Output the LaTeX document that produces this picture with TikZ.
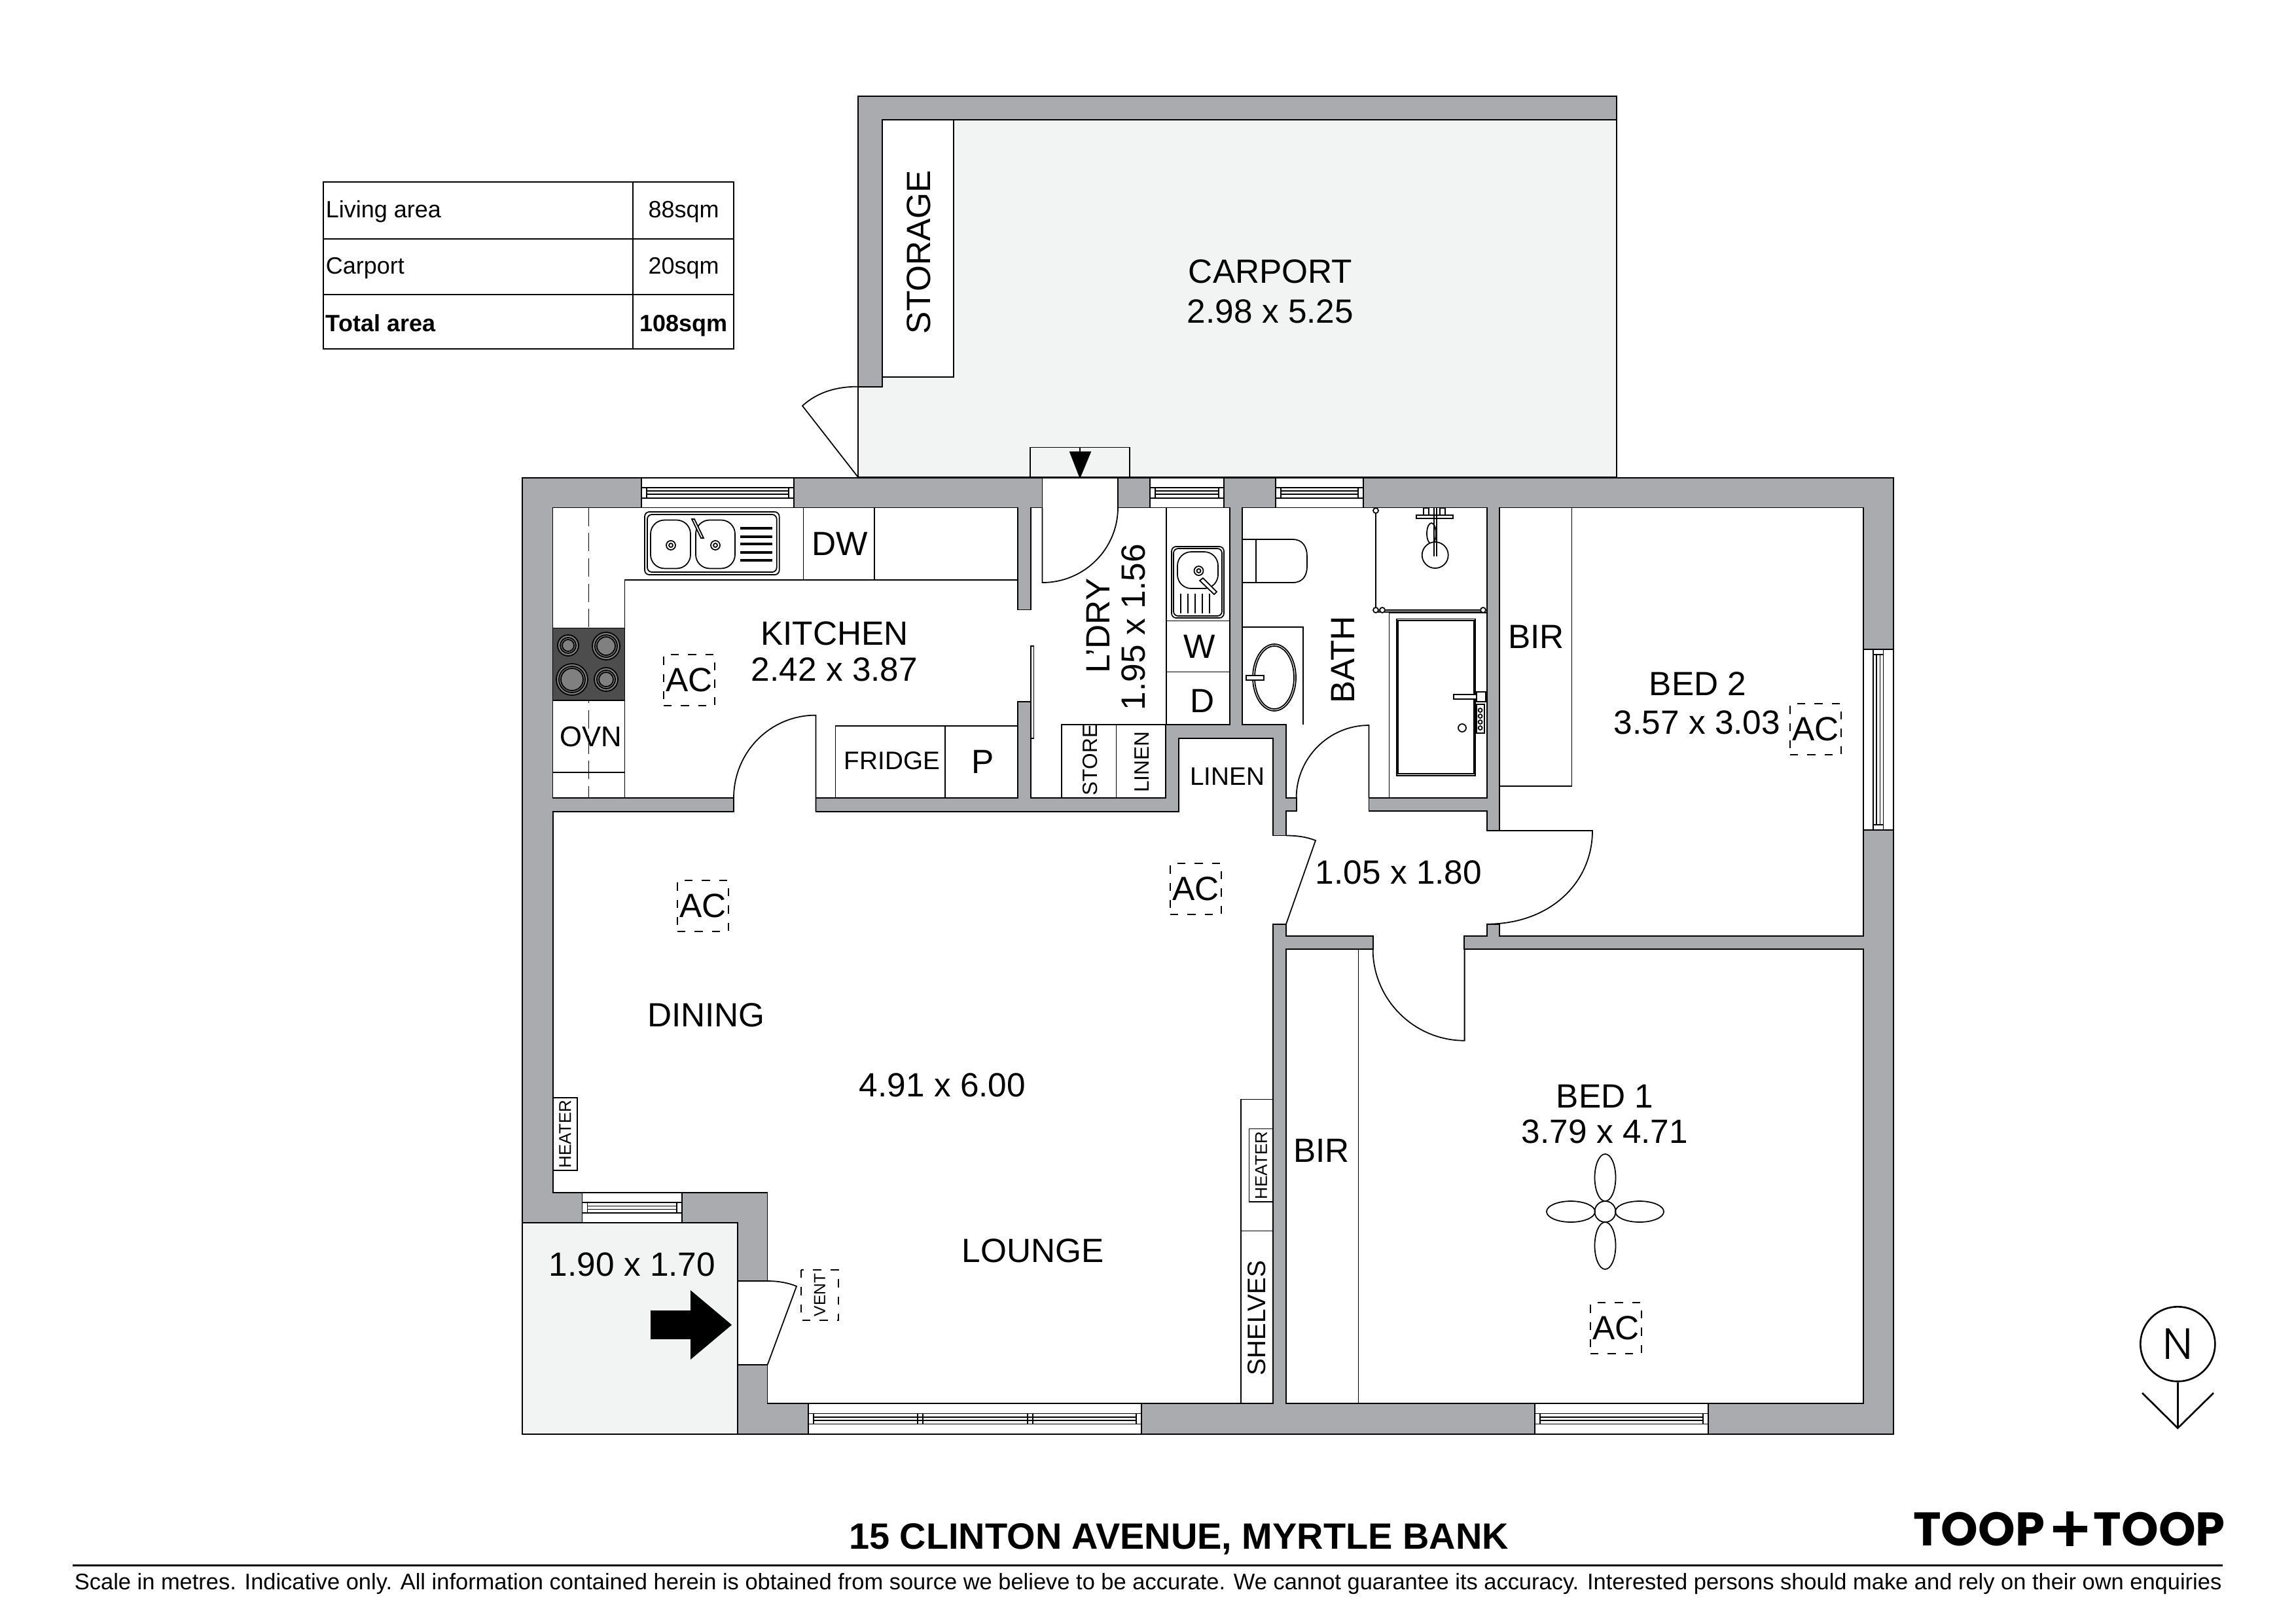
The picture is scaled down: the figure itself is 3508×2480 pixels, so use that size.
\documentclass[tikz,border=0pt]{standalone}
\usepackage{fontspec}
\setmainfont{Liberation Sans}
\newfontfamily\logofont{Poppins}
\newfontfamily\northfont{Poppins Light}
\definecolor{wallgrey}{HTML}{AAABAE}
\definecolor{pavegrey}{HTML}{F2F4F3}
\definecolor{hobgrey}{HTML}{4D4D4D}
\definecolor{ringgrey}{HTML}{808080}
\tikzset{
   wall/.style={fill=wallgrey,draw=black,line width=0.6pt},
   pave/.style={fill=pavegrey,draw=black,line width=0.5pt},
   roomtext/.style={font=\fontsize{14.6}{15.6}\selectfont,inner sep=0pt,align=center},
   midtext/.style={font=\fontsize{11}{13}\selectfont,inner sep=0pt},
   smalltext/.style={font=\fontsize{9}{11}\selectfont,inner sep=0pt},
   tabletext/.style={font=\fontsize{10.24}{12}\selectfont,inner sep=0pt},
   logotext/.style={font=\logofont\bfseries\fontsize{20.5}{24}\selectfont,inner sep=0pt},
   acbox/.style={roomtext,draw,line width=0.45pt,dash pattern=on 3.5pt off 4pt,minimum width=0.78cm,minimum height=0.78cm},
   ventbox/.style={draw,line width=0.45pt,dash pattern=on 3.5pt off 4pt,font=\fontsize{7}{8}\selectfont,inner sep=0pt,minimum width=0.77cm,minimum height=0.57cm,rotate=90},
   heaterbox/.style={draw,fill=white,line width=0.5pt,font=\fontsize{7.4}{8}\selectfont,inner sep=0pt,minimum width=1.115cm,minimum height=0.365cm,rotate=90}
}

\begin{document}
\begin{tikzpicture}[x=0.01cm,y=-0.01cm,line width=0.5pt]
   \useasboundingbox (0,0) rectangle (3508,2480);

   %% Carport
   \draw[pave] (1311,146.6) rectangle (2470,729);
   \draw[wall] (1311,146.6) -- (2470,146.6) -- (2470,183) -- (1348,183) -- (1348,590.6) -- (1311,590.6) -- cycle;
   \draw[fill=white] (1348,183) rectangle (1457,576);
   \draw[fill=white] (1311,729) -- (1226,620) .. controls (1250,598) and (1280,590.6) .. (1311,590.6) -- cycle;
   \draw (1573.7,729) -- (1573.7,683.5) -- (1726,683.5) -- (1726,729);
   \draw (1650,683.5) -- (1650,695);
   \draw[fill=black] (1635,690.5) -- (1666,690.5) -- (1650,729) -- cycle;

   %% Walls
   \draw[wall] (798,730) -- (2893,730) -- (2893,2191) -- (1127,2191) -- (1127,1868) -- (798,1868) -- cycle;
   \draw[pave] (798,1868) rectangle (1126.7,2191);
   \draw[fill=white,line join=miter] (844.5,775.5) -- (1555,775.5) -- (1555,931.5) -- (1575,931.5) -- (1575,775.5)
      -- (1592.6,775.5) -- (1592.6,730) -- (1708,730) -- (1708,775.5) -- (1879,775.5) -- (1879,1107) -- (1781,1107)
      -- (1781,1219.3) -- (1575,1219.3) -- (1575,1072) -- (1555,1072) -- (1555,1219.3) -- (1246.5,1219.3) -- (1246.5,1240)
      -- (1801,1240) -- (1801,1127.6) -- (1945,1127.6) -- (1945,1276.5) -- (1965,1276.5) -- (1965,1239) -- (1980.6,1239)
      -- (1980.6,1219) -- (1965,1219) -- (1965,1107) -- (1898,1107) -- (1898,775.5) -- (2271.6,775.5) -- (2271.6,1219)
      -- (2091.4,1219) -- (2091.4,1239) -- (2271.6,1239) -- (2271.6,1269) -- (2290.7,1269) -- (2290.7,775.5) -- (2847,775.5)
      -- (2847,1429.6) -- (2290.7,1429.6) -- (2290.7,1411.7) -- (2271.6,1411.7) -- (2271.6,1429.6) -- (2237.3,1429.6)
      -- (2237.3,1450) -- (2847,1450) -- (2847,2144) -- (1965,2144) -- (1965,1450) -- (2097.8,1450) -- (2097.8,1429.6)
      -- (1965,1429.6) -- (1965,1411.7) -- (1945,1411.7) -- (1945,2144) -- (1172.6,2144) -- (1172.6,2085) -- (1126.7,2085)
      -- (1126.7,1957) -- (1172.6,1957) -- (1172.6,1822) -- (845,1822) -- (845,1240) -- (1121,1240) -- (1121,1219.3)
      -- (844.5,1219.3) -- cycle;

   %% Windows
   \foreach \xa/\xb/\ya/\yb in {980/1213/730/775.5,1757/1870/730/775.5,1949/2083/730/775.5,889.4/1041.7/1822/1868,1235/1744/2144/2191,2344.7/2610/2144/2191}{
      \pgfmathsetmacro\ym{(\ya+\yb)/2}
      \draw[fill=white] (\xa,\ya) rectangle (\xb,\yb);
      \draw (\xa,\ym-8) -- (\xb,\ym-8);
      \draw (\xa,\ym+8) -- (\xb,\ym+8);
      \draw (\xa+8,\ym-8) rectangle (\xb-8,\ym+8);
      \draw (\xa+8,\ym-2.5) -- (\xb-8,\ym-2.5);
      \draw (\xa+8,\ym+2.5) -- (\xb-8,\ym+2.5);
   }
   \foreach \xa in {1402,1410,1570,1578}{
      \draw (\xa,2159) -- (\xa,2175);
   }
   \draw[fill=white] (2847,992) rectangle (2893,1268);
   \draw (2862,992) -- (2862,1268);
   \draw (2877.5,992) -- (2877.5,1268);
   \draw (2862,1000) rectangle (2877.5,1260);
   \draw (2867,1000) -- (2867,1260);
   \draw (2872.5,1000) -- (2872.5,1260);

   %% Doors
   \draw (1246.5,1240) -- (1246.5,1092.6) .. controls (1176.5,1092.6) and (1121,1149.3) .. (1121,1219.3);
   \draw (1592.6,775.5) -- (1592.6,890) .. controls (1656.6,890) and (1708,838.5) .. (1708,775.5);
   \draw (2091.4,1219) -- (2091.4,1108) .. controls (2030.4,1108) and (1980.6,1158) .. (1980.6,1219);
   \draw (2271.6,1269) -- (2433,1269) .. controls (2433,1348) and (2369,1411.7) .. (2271.6,1411.7);
   \draw (2237.6,1450) -- (2237.6,1589.7) .. controls (2160.6,1589.7) and (2097.6,1527) .. (2097.6,1450);
   \draw (1965,1411.7) -- (2010,1284) .. controls (1995,1278) and (1980,1276.5) .. (1965,1276.5);
   \draw (1172.6,2085) -- (1217,1965) .. controls (1205,1960) and (1190,1957) .. (1172.6,1957);
   \draw[fill=white] (1575,987) rectangle (1579.5,1128);
   \draw[fill=black] (995,2003) -- (1056,2003) -- (1056,1973) -- (1116.7,2024) -- (1056,2075) -- (1056,2045) -- (995,2045) -- cycle;

   %% Kitchen
   \draw (954.5,1219.3) -- (954.5,885.6) -- (1555,885.6);
   \draw (1227.4,775.5) -- (1227.4,885.6);
   \draw (1336,775.5) -- (1336,885.6);
   \draw (844.5,1180) -- (954.5,1180);
   \draw[dash pattern=on 8pt off 3pt] (899.5,775.5) -- (899.5,1219.3);
   \draw[fill=hobgrey] (844.5,959.5) rectangle (954.5,1069.7);
   \foreach \cx/\cy/\rr in {868/986/16,926/987/21,874/1038/24,926/1038/18}{
      \draw[fill=ringgrey] (\cx,\cy) circle[radius=\rr];
      \draw (\cx,\cy) circle[radius=\rr-4];
      \draw (\cx,\cy) circle[radius=\rr-7];
   }
   %% Kitchen sink
   \draw[rounded corners=2pt] (985,782) rectangle (1190.7,878);
   \draw[rounded corners=2pt] (989,786) rectangle (1186.7,874);
   \draw[rounded corners=6pt] (994,794.5) rectangle (1055,868.4);
   \draw[rounded corners=6pt] (1063,794.5) rectangle (1123,868.4);
   \draw (1025,833) circle[radius=7];
   \draw (1025,833) circle[radius=3];
   \draw (1093,833) circle[radius=7];
   \draw (1093,833) circle[radius=3];
   \foreach \yy in {807,820,831,844,856}{
      \draw[line width=0.9pt] (1130.6,\yy) -- (1180,\yy);
   }
   \draw[fill=white] (1057,793) -- (1061,793) -- (1075,822) -- (1071,822) -- cycle;

   %% Laundry
   \draw (1782,775.5) -- (1782,1107);
   \draw (1782,948.5) -- (1879,948.5);
   \draw (1782,1026.5) -- (1879,1026.5);
   \draw (1622,1219.3) -- (1622,1107) -- (1782,1107);
   \draw (1705.6,1107) -- (1705.6,1219.3);
   \draw (1276.5,1219.3) -- (1276.5,1108.7) -- (1555,1108.7);
   \draw (1443.7,1108.7) -- (1443.7,1219.3);
   \draw[rounded corners=2pt] (1790,835) rectangle (1870,944);
   \draw[rounded corners=2pt] (1793,838) rectangle (1867,941);
   \draw[rounded corners=6pt] (1799,843) rectangle (1861,899);
   \draw (1831.5,872) circle[radius=7];
   \draw (1831.5,872) circle[radius=3];
   \foreach \xx in {1804,1815,1826,1837,1848}{
      \draw (\xx,906.6) -- (\xx,937);
   }
   \draw[fill=white] (1833,887) -- (1838,883) -- (1859,904) -- (1855,908) -- cycle;

   %% Bath
   \draw (1898,824) rectangle (1919,890);
   \draw (1919,824) -- (1975,824) .. controls (1990,824) and (1997,835) .. (1997,850) -- (1997,865) .. controls (1997,880) and (1990,890) .. (1975,890) -- (1919,890);
   \draw (1898,958) -- (1991,958) -- (1991,1107);
   \draw (1947,1035) ellipse[x radius=33,y radius=51];
   \draw (1947,1035) ellipse[x radius=30,y radius=48];
   \draw[fill=white] (1904,1031.6) rectangle (1931,1039);
   \draw (2102,775.5) -- (2102,932) -- (2266,932);
   \draw (2102,935) -- (2266,935);
   \foreach \sx/\sy in {2102/780,2102/932,2112/932,2266/932}{
      \draw[fill=white] (\sx,\sy) circle[radius=4];
   }
   \draw (2164,787) rectangle (2220,792);
   \draw (2175,776) rectangle (2183,787);
   \draw (2200,776) rectangle (2208,787);
   \draw (2187,815) ellipse[x radius=7,y radius=16];
   \draw[fill=white] (2192.7,848) circle[radius=20];
   \draw (2190.7,775.5) -- (2190.7,850);
   \draw (2194.7,775.5) -- (2194.7,850);
   \draw (2122.5,1219) -- (2122.5,936) -- (2271.6,936);
   \draw (2133.7,945.4) rectangle (2254,1184.7);
   \draw (2136,948) rectangle (2251.7,1182);
   \draw[fill=white] (2221,1061) rectangle (2258,1068);
   \draw[fill=white] (2255.6,1057) rectangle (2270,1072);
   \draw (2255.6,1076) rectangle (2267.6,1120);
   \foreach \yy in {1085,1094,1103,1112}{
      \draw (2261.6,\yy) circle[radius=3];
   }
   \draw (2234,1112) circle[radius=6];

   %% Built in robes and shelves
   \draw (2290.7,1201) -- (2401.5,1201) -- (2401.5,775.5);
   \draw (2075.5,1450) -- (2075.5,2144);
   \draw (1945,1679.5) -- (1895.8,1679.5) -- (1895.8,2144);
   \draw (1895.8,1880.4) -- (1945,1880.4);

   %% Fan
   \draw (2452.5,1799) ellipse[x radius=16,y radius=36];
   \draw (2452.5,1903) ellipse[x radius=16,y radius=36];
   \draw (2400,1851) ellipse[x radius=37,y radius=16];
   \draw (2505,1851) ellipse[x radius=37,y radius=16];
   \draw (2452.5,1851) circle[radius=16];

   %% Labels
   \node[roomtext] (carport) at (1941,445) {CARPORT\\[1.8pt]2.98 x 5.25};
   \node[roomtext,rotate=90] (storage) at (1404,385) {STORAGE};
   \node[roomtext] (kitchen) at (1275,995) {KITCHEN\\2.42 x 3.87};
   \node[acbox] (ackitchen) at (1053,1039) {AC};
   \node[roomtext] (dw) at (1283,831) {DW};
   \node[font=\fontsize{12.4}{14}\selectfont,inner sep=0pt] (ovn) at (902.5,1125) {OVN};
   \node[midtext] (fridge) at (1363,1162) {FRIDGE};
   \node[roomtext] (pantry) at (1501.7,1164) {P};
   \node[roomtext,rotate=90] (ldry) at (1678,956) {L'DRY};
   \node[roomtext,rotate=90] (ldrysize) at (1732,958) {1.95 x 1.56};
   \node[roomtext] (washer) at (1833,988) {W};
   \node[roomtext] (dryer) at (1837,1071) {D};
   \node[smalltext,rotate=90] (store) at (1666,1161) {STORE};
   \node[smalltext,rotate=90] (linena) at (1744.4,1164) {LINEN};
   \node[midtext] (linenb) at (1875,1186) {LINEN};
   \node[roomtext,rotate=90] (bath) at (2052,1008) {BATH};
   \node[roomtext] (birb) at (2347,973) {BIR};
   \node[roomtext] (bedb) at (2594,1045) {BED 2};
   \node[roomtext] (bedbsize) at (2593,1104) {3.57 x 3.03};
   \node[acbox] (acbedb) at (2774,1114) {AC};
   \node[roomtext] (hall) at (2137,1333) {1.05 x 1.80};
   \node[acbox] (aclounge) at (1827,1358) {AC};
   \node[acbox] (acdining) at (1074,1384) {AC};
   \node[roomtext] (dining) at (1079,1551) {DINING};
   \node[roomtext] (livingsize) at (1440,1658) {4.91 x 6.00};
   \node[roomtext] (lounge) at (1578,1911) {LOUNGE};
   \node[roomtext] (entry) at (966,1932) {1.90 x 1.70};
   \node[ventbox] (vent) at (1252.5,1978.5) {VENT};
   \node[heaterbox] (heatera) at (863.5,1732.5) {HEATER};
   \node[heaterbox] (heaterb) at (1926.8,1780.3) {HEATER};
   \node[midtext,rotate=90] (shelves) at (1920,2013.6) {SHELVES};
   \node[roomtext] (bira) at (2019,1758) {BIR};
   \node[roomtext] (beda) at (2452,1702) {BED 1\\3.79 x 4.71};
   \node[acbox] (acbeda) at (2469,2029) {AC};

   %% Area table
   \draw[line width=0.7pt] (494,278) rectangle (1121,533);
   \draw[line width=0.7pt] (494,365) -- (1121,365);
   \draw[line width=0.7pt] (494,450) -- (1121,450);
   \draw[line width=0.7pt] (967,278) -- (967,533);
   \node[tabletext,anchor=base west] (arealiving) at (497,332) {Living area};
   \node[tabletext,anchor=base] (sqmliving) at (1044.6,332) {88sqm};
   \node[tabletext,anchor=base west] (areacarport) at (497,418) {Carport};
   \node[tabletext,anchor=base] (sqmcarport) at (1044.6,418) {20sqm};
   \node[tabletext,anchor=base west] (areatotal) at (497,506) {\bfseries Total area};
   \node[tabletext,anchor=base] (sqmtotal) at (1044.6,506) {\bfseries 108sqm};

   %% North
   \node[draw,circle,line width=0.75pt,minimum size=1.14cm,inner sep=0pt,font=\northfont\fontsize{19}{20}\selectfont] (north) at (3327.3,2053.3) {N};
   \coordinate (northtip) at (3327.3,2181.7);
   \draw[line width=0.75pt] (north) -- (northtip);
   \draw[line width=0.75pt] (3273,2128) -- (northtip) -- (3382,2128);

   %% Footer
   \node[inner sep=0pt,font=\bfseries\fontsize{15.9}{18}\selectfont] (address) at (1801,2351) {15 CLINTON AVENUE, MYRTLE BANK};
   \node[logotext,anchor=east] (logoa) at (3125,2336) {TOOP};
   \node[logotext,anchor=west] (logob) at (3198,2336) {TOOP};
   \fill (3136.5,2331) rectangle (3189,2341);
   \fill (3157,2309) rectangle (3168,2362);
   \draw[line width=0.9pt] (111,2391.7) -- (3396,2391.7);
   \node[inner sep=0pt,anchor=base west,font=\fontsize{9.8}{12}\selectfont] (disclaimer) at (113,2428) {Scale in metres. Indicative only. All information contained herein is obtained from source we believe to be accurate. We cannot guarantee its accuracy. Interested persons should make and rely on their own enquiries};
\end{tikzpicture}
\end{document}
